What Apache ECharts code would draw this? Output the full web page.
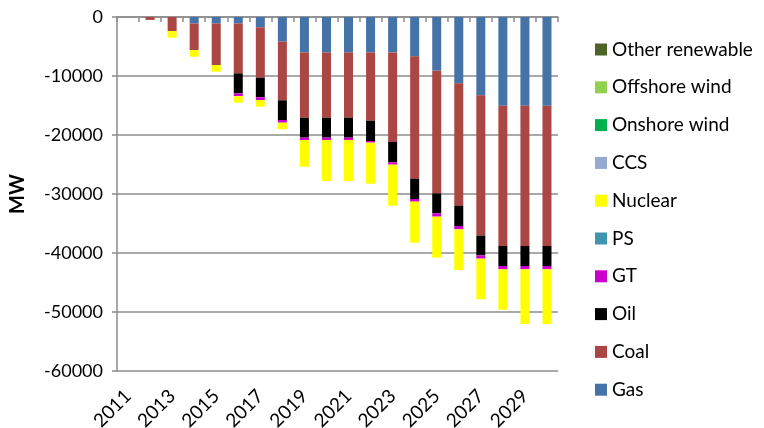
<!DOCTYPE html>
<html>
<head>
<meta charset="utf-8">
<script src="https://cdn.jsdelivr.net/npm/echarts@6/dist/echarts.min.js"></script>
<style>
  html, body { margin: 0; padding: 0; background: #fff; }
  #chart { width: 764px; height: 428px; }
</style>
</head>
<body>
<div id="chart"></div>
<script>
// Capacity retirements by technology, MW (negative = closed)
const years = ['2011','2012','2013','2014','2015','2016','2017','2018','2019','2020',
               '2021','2022','2023','2024','2025','2026','2027','2028','2029','2030'];
const gas = [0, 0, 0, -1100, -1100, -1100, -1750, -4180, -6000, -6000,
             -6000, -6000, -6000, -6670, -9100, -11240, -13280, -15030, -15030, -15030];
const coal = [0, -500, -2370, -4500, -7040, -8450, -8530, -9940, -11060, -11060,
              -11060, -11570, -15190, -20730, -20790, -20740, -23780, -23780, -23780, -23780];
const oil = [0, 0, 0, 0, 0, -3400, -3330, -3340, -3390, -3390,
             -3390, -3450, -3440, -3450, -3390, -3440, -3340, -3390, -3390, -3390];
const gt = [0, 0, 0, 0, 0, -450, -460, -450, -400, -400,
            -400, -280, -400, -450, -560, -570, -560, -570, -570, -570];
const ps = [0, 0, 0, 0, 0, 0, 0, 0, 0, 0, 0, 0, 0, 0, 0, 0, 0, 0, 0, 0];
const nuclear = [0, 0, -1130, -1130, -1130, -1120, -1130, -1130, -4520, -6950,
                 -6950, -6950, -6950, -6950, -6950, -6890, -6890, -6840, -9260, -9260];
const ccs = [0, 0, 0, 0, 0, 0, 0, 0, 0, 0, 0, 0, 0, 0, 0, 0, 0, 0, 0, 0];
const onshoreWind = [0, 0, 0, 0, 0, 0, 0, 0, 0, 0, 0, 0, 0, 0, 0, 0, 0, 0, 0, 0];
const offshoreWind = [0, 0, 0, 0, 0, 0, 0, 0, 0, 0, 0, 0, 0, 0, 0, 0, 0, 0, 0, 0];
const otherRenewable = [0, 0, 0, 0, 0, 0, 0, 0, 0, 0, 0, 0, 0, 0, 0, 0, 0, 0, 0, 0];
const yTicks = { min: -60000, max: 0, interval: 10000 };

// Stacking order from the zero line downwards
const stackDefs = [
  ['Gas', gas, '#4572A7'],
  ['Coal', coal, '#AA4643'],
  ['Oil', oil, '#000000'],
  ['GT', gt, '#CC00CC'],
  ['PS', ps, '#3D96AE'],
  ['Nuclear', nuclear, '#FFFF00'],
  ['CCS', ccs, '#95A9D1'],
  ['Onshore wind', onshoreWind, '#00B050'],
  ['Offshore wind', offshoreWind, '#92D050'],
  ['Other renewable', otherRenewable, '#4F6228']
];

const FONT = 'Lato, "DejaVu Sans", sans-serif';
const chart = echarts.init(document.getElementById('chart'), null, { renderer: 'canvas' });

chart.setOption({
  animation: false,
  textStyle: { fontFamily: FONT, color: '#000' },
  grid: { left: 117, right: 206, top: 17, bottom: 57, containLabel: false, outerBoundsMode: 'none' },
  legend: {
    orient: 'vertical',
    left: 595,
    top: 40,
    padding: 0,
    icon: 'rect',
    itemWidth: 12,
    itemHeight: 12,
    itemGap: 18.8,
    data: stackDefs.map(d => d[0]).reverse(),
    textStyle: { fontFamily: FONT, fontSize: 19, color: '#000', lineHeight: 19 },
    selectedMode: false
  },
  xAxis: {
    type: 'category',
    data: years,
    boundaryGap: true,
    axisLine: { lineStyle: { color: '#8c8c8c', width: 1.5 } },
    axisTick: { show: true, interval: 0, length: 5, lineStyle: { color: '#8c8c8c', width: 1.5 } },
    axisLabel: {
      interval: 1,
      rotate: 45,
      margin: 22,
      fontFamily: FONT,
      fontSize: 19,
      color: '#000'
    },
    splitLine: { show: false }
  },
  yAxis: {
    type: 'value',
    min: yTicks.min,
    max: yTicks.max,
    interval: yTicks.interval,
    name: 'MW',
    nameLocation: 'middle',
    nameGap: 89,
    nameTextStyle: { fontFamily: FONT, fontSize: 20, fontWeight: 'bold', color: '#000' },
    axisLine: { show: true, lineStyle: { color: '#8c8c8c', width: 1.5 } },
    axisTick: { show: true, length: 5, lineStyle: { color: '#8c8c8c', width: 1.5 } },
    axisLabel: {
      fontFamily: FONT,
      fontSize: 18,
      color: '#000',
      margin: 14,
      formatter: v => String(v)
    },
    splitLine: { show: true, lineStyle: { color: '#8c8c8c', width: 1.5 } }
  },
  series: stackDefs.map(([name, values, color]) => ({
    name: name,
    type: 'bar',
    stack: 'retired',
    barWidth: 9,
    data: values,
    itemStyle: { color: color },
    emphasis: { disabled: true }
  }))
});
</script>
</body>
</html>
